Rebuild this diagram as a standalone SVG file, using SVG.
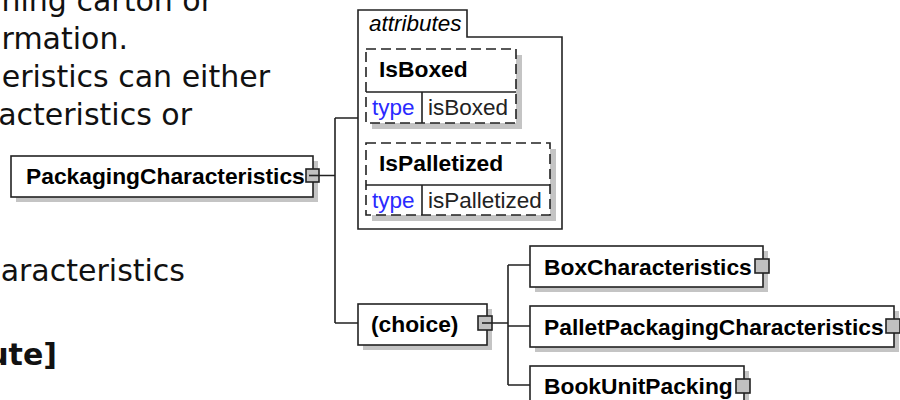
<svg xmlns="http://www.w3.org/2000/svg" width="900" height="400" viewBox="0 0 900 400">
<defs>
<style>
.page{font-family:"DejaVu Sans",Verdana,sans-serif;font-size:30px;fill:#111;text-anchor:end}
.pageb{font-family:"DejaVu Sans",Verdana,sans-serif;font-size:30px;font-weight:bold;fill:#111;text-anchor:end}
.box{fill:#fff;stroke:#222;stroke-width:1.6}
.dbox{fill:#fff;stroke:#222;stroke-width:1.6;stroke-dasharray:10,5}
.sh{fill:#c4c4c4}
.ln{fill:none;stroke:#222;stroke-width:1.6}
.lbl{font-family:"Liberation Sans",Arial,sans-serif;font-size:22.8px;font-weight:bold;fill:#000}
.it{font-family:"Liberation Sans",Arial,sans-serif;font-size:22.5px;font-style:italic;fill:#000}
.reg{font-family:"Liberation Sans",Arial,sans-serif;font-size:22.5px;fill:#222}
.typ{font-family:"Liberation Sans",Arial,sans-serif;font-size:22.5px;fill:#2a2aff}
.exp{fill:#c0c0c0;stroke:#222;stroke-width:1.6}
</style>
</defs>
<rect width="900" height="400" fill="#fff"/>
<g id="page-text">
<text class="page" x="213" y="11">ning carton or</text>
<text class="page" x="128" y="49">rmation.</text>
<text class="page" x="270" y="87">eristics can either</text>
<text class="page" x="192" y="125">acteristics or</text>
<text class="page" x="185" y="281">aracteristics</text>
<text class="pageb" x="57" y="365">ute]</text>
</g>
<g id="connectors">
<path class="ln" d="M319 175.5H335M335 118V323M335 118H358M335 323H358"/>
<path class="ln" d="M492 323H508M508 265V385M508 265H530M508 326H530M508 385H530"/>
</g>
<g id="PackagingCharacteristics">
<rect class="sh" x="16" y="161" width="302" height="41"/>
<rect class="box" x="11" y="156" width="302" height="41"/>
<text class="lbl" x="26" y="184">PackagingCharacteristics</text>
<rect class="exp" x="306" y="169" width="13" height="13"/>
<path class="ln" d="M309 175.5H319"/>
</g>
<g id="attributes">
<path class="box" d="M358 229V10H467V37H562V229Z"/>
<text class="it" x="369" y="31">attributes</text>
</g>
<g id="IsBoxed">
<path class="sh" d="M516 55H522V129H372V123H516Z"/>
<rect class="dbox" x="366" y="49" width="150" height="74"/>
<path class="ln" d="M366 92H516M422 92V123"/>
<text class="lbl" x="379" y="77">IsBoxed</text>
<text class="typ" x="372" y="115">type</text>
<text class="reg" x="428" y="115">isBoxed</text>
</g>
<g id="IsPalletized">
<path class="sh" d="M550 149H556V221H372V215H550Z"/>
<rect class="dbox" x="366" y="143" width="184" height="72"/>
<path class="ln" d="M366 185H550M422 185V215"/>
<text class="lbl" x="379" y="171">IsPalletized</text>
<text class="typ" x="372" y="208">type</text>
<text class="reg" x="428" y="208">isPalletized</text>
</g>
<g id="choice">
<rect class="sh" x="363" y="309" width="129" height="41"/>
<rect class="box" x="358" y="304" width="129" height="41"/>
<text class="lbl" x="371" y="332">(choice)</text>
<rect class="exp" x="478" y="316" width="14" height="14"/>
<path class="ln" d="M482 323H492"/>
</g>
<g id="BoxCharacteristics">
<rect class="sh" x="535" y="251" width="233" height="41"/>
<rect class="box" x="530" y="246" width="233" height="41"/>
<text class="lbl" x="544" y="275">BoxCharacteristics</text>
<rect class="exp" x="755" y="259" width="14" height="14"/>
</g>
<g id="PalletPackagingCharacteristics">
<rect class="sh" x="535" y="311" width="364" height="41"/>
<rect class="box" x="530" y="306" width="364" height="41"/>
<text class="lbl" x="544" y="335">PalletPackagingCharacteristics</text>
<rect class="exp" x="886" y="319" width="14" height="14"/>
</g>
<g id="BookUnitPacking">
<rect class="sh" x="535" y="371" width="214" height="41"/>
<rect class="box" x="530" y="366" width="214" height="41"/>
<text class="lbl" x="544" y="394">BookUnitPacking</text>
<rect class="exp" x="736" y="379" width="14" height="14"/>
</g>
</svg>
